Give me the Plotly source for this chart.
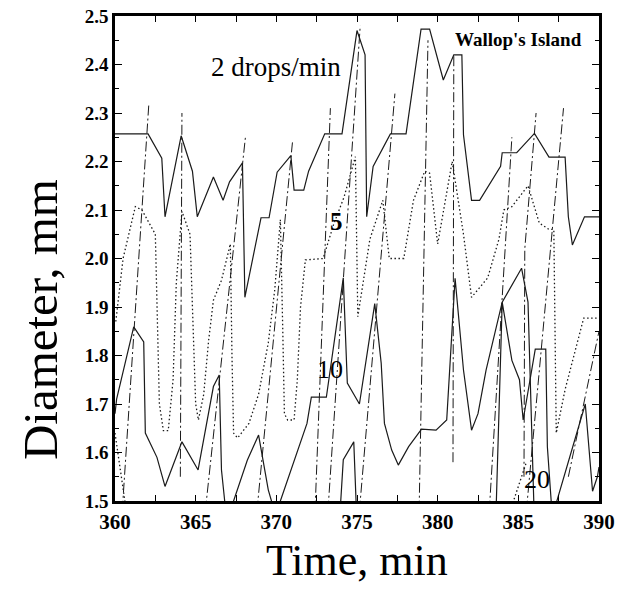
import plotly.graph_objects as go

# --- data -----------------------------------------------------------------------------
# 2 drops/min (solid, top)
t_2 = [360, 362.05, 362.9, 363.1, 364.1, 364.8, 365.1, 366.1, 366.7, 367.1, 367.9, 368.05,
       369.05, 369.55, 370.05, 370.9, 371.1, 371.7, 372.0, 373.0, 374.07, 375.0, 375.5,
       375.6, 376.0, 377.07, 378.04, 378.97, 379.5, 380.35, 381.0, 381.5, 381.6, 382.1,
       382.6, 383.9, 384.0, 384.9, 386.0, 386.9, 387.9, 388.1, 388.35, 389.1, 390]
d_2 = [2.257, 2.257, 2.207, 2.086, 2.253, 2.18, 2.086, 2.168, 2.12, 2.158, 2.197, 1.92,
       2.084, 2.084, 2.178, 2.212, 2.141, 2.141, 2.18, 2.257, 2.257, 2.47, 2.42,
       2.086, 2.19, 2.257, 2.257, 2.473, 2.473, 2.368, 2.42, 2.42, 2.255, 2.12,
       2.12, 2.19, 2.218, 2.218, 2.258, 2.209, 2.209, 2.086, 2.028, 2.086, 2.086]

# 5 drops/min (dotted)
t_5 = [360.05, 360.5, 361.26, 361.67, 362.5, 362.6, 362.75, 363.0, 363.3, 363.6, 363.8,
       364.15, 364.65, 364.8, 365.0, 365.17, 365.5, 365.8, 366.1, 366.6, 367.15, 367.25,
       367.35, 367.6, 368.3, 368.9, 369.5, 369.9, 370.25, 370.4, 370.5, 370.7, 371.1,
       371.3, 371.5, 371.8, 372.9, 373.55, 374.2, 374.9, 375.05, 375.8, 376.6, 377.0,
       377.9, 378.5, 379.2, 379.5, 380.0, 380.9, 381.6, 382.1, 383.1, 383.8, 384.1,
       384.6, 385.6, 386.3, 386.9, 387.2, 387.35, 387.9, 388.7, 389.05, 390]
d_5 = [1.87, 2.0, 2.107, 2.10, 2.05, 1.9, 1.7, 1.645, 1.645, 1.75, 1.95,
       2.097, 2.05, 1.9, 1.7, 1.667, 1.72, 1.83, 1.914, 1.955, 2.03, 1.8,
       1.64, 1.63, 1.66, 1.72, 1.826, 1.935, 2.08, 1.85, 1.68, 1.667, 1.667,
       1.75, 1.9, 1.997, 2.0, 2.07, 2.127, 2.21, 1.88, 2.04, 2.12, 2.0,
       2.0, 2.12, 2.18, 2.176, 2.03, 2.20, 2.05, 1.92, 1.96, 2.04, 2.10,
       2.107, 2.15, 2.073, 2.06, 2.06, 1.64, 1.73, 1.83, 1.877, 1.877]

# 10 drops/min (solid, middle)
t_10 = [360, 360.1, 361.16, 361.78, 361.88, 362.6, 363.1, 364.15, 365.15, 366.1, 366.46,
        366.6, 366.8, 367.05, 367.35, 368.2, 368.9, 369.5, 369.7, 370.0, 370.25, 371.9,
        372.17, 373.1, 374.15, 374.4, 375.15, 376.1, 376.5, 376.7, 377.15, 377.56, 378.2,
        379.0, 379.9, 380.56, 381.08, 381.6, 382.1, 382.5, 383.0, 384.0, 385.2, 385.6,
        386.0, 390]
d_10 = [1.68, 1.71, 1.859, 1.828, 1.64, 1.59, 1.53, 1.622, 1.564, 1.736, 1.76,
        1.564, 1.5, 1.45, 1.5, 1.584, 1.636, 1.523, 1.5, 1.45, 1.5, 1.66,
        1.714, 1.714, 1.96, 1.743, 1.70, 1.907, 1.784, 1.66, 1.605, 1.574, 1.612,
        1.648, 1.646, 1.667, 1.959, 1.77, 1.646, 1.68, 1.77, 1.91, 1.98, 1.91,
        1.45, 1.40]

# 20 drops/min (solid, bottom, mostly below the axis)
t_20 = [360, 373.6, 373.9, 374.15, 374.8, 375.0, 383.55, 384.0, 384.6, 385.07, 385.3,
        386.05, 386.7, 386.8, 387.1, 387.3, 389.15, 389.4, 389.6, 389.9, 390]
d_20 = [1.40, 1.40, 1.45, 1.585, 1.622, 1.45, 1.40, 1.91, 1.79, 1.75, 1.667,
        1.813, 1.813, 1.612, 1.47, 1.49, 1.70, 1.59, 1.52, 1.55, 1.57]

# dash-dot traces (None separates pieces)
t_dd = [360.45, 362.1, None, 364.05, 364.15, None, 365.6, 368.1, None, 368.8, 371.0, None,
        372.4, 373.35, None, 373.2, 375.2, None, 375.15, 377.35, None, 378.85, 379.4, None,
        380.95, 381.0, None, 383.2, 384.6, None, 385.35, 385.4, 386.1, None, 385.5, 387.8,
        None, 388.1, 390]
d_dd = [1.48, 2.32, None, 1.55, 2.30, None, 1.48, 2.255, None, 1.48, 2.24, None,
        1.48, 2.31, None, 1.48, 2.48, None, 1.48, 2.34, None, 1.48, 2.45, None,
        1.58, 2.42, None, 1.48, 2.25, None, 1.55, 2.02, 2.30, None, 1.48, 2.31,
        None, 1.55, 1.85]

# small dotted pieces near the bottom
t_dots = [360.0, 360.7, None, 384.5, 385.5]
d_dots = [1.64, 1.48, None, 1.48, 1.58]

# --------------------------------------------------------------------------------------

serif = "Liberation Serif"
ink = "#1a1a1a"

fig = go.Figure()

for tt, dd, dash, w in [
    (t_dd, d_dd, "10px,3px,2px,3px", 1),
    (t_dots, d_dots, "1.5px,2.5px", 1.3),
    (t_5, d_5, "1.5px,2.5px", 1.3),
    (t_2, d_2, "solid", 1.2),
    (t_10, d_10, "solid", 1.2),
    (t_20, d_20, "solid", 1.2),
]:
    fig.add_trace(go.Scatter(
        x=tt, y=dd, mode="lines", connectgaps=False,
        line=dict(color=ink, width=w, dash=dash),
        showlegend=False, hoverinfo="skip",
    ))

# curve labels
labels = [
    (370.0, 2.395, "2 drops/min", 27, "normal"),
    (385.0, 2.452, "Wallop's Island", 19, "bold"),
    (373.7, 2.077, "5", 25, "bold"),
    (373.3, 1.772, "10", 26, "normal"),
    (386.15, 1.545, "20", 26, "normal"),
]
for lx, ly, txt, size, weight in labels:
    fig.add_annotation(
        x=lx, y=ly, xref="x", yref="y", text=txt, showarrow=False,
        font=dict(family=serif, size=size, color="black", weight=weight),
    )

# axis titles as annotations (placed like the original)
fig.add_annotation(
    x=-0.155, y=0.375, xref="paper", yref="paper", text="Diameter, mm",
    textangle=-90, showarrow=False, xanchor="center", yanchor="middle",
    font=dict(family=serif, size=49, color="black"),
)
fig.add_annotation(
    x=0.5, y=-0.122, xref="paper", yref="paper", text="Time, min",
    showarrow=False, xanchor="center", yanchor="middle",
    font=dict(family=serif, size=44, color="black"),
)

fig.update_layout(
    width=622, height=590,
    margin=dict(l=115, r=23, t=16, b=89, autoexpand=False),
    paper_bgcolor="white", plot_bgcolor="white",
    font=dict(family=serif, color="black"),
)

fig.update_xaxes(
    range=[360, 390], dtick=5, tick0=360, automargin=False,
    ticks="inside", ticklen=6, tickwidth=1.2, tickcolor="black",
    minor=dict(dtick=2.5, ticks="inside", ticklen=6, tickcolor="black"),
    showline=True, linewidth=2.5, linecolor="black", mirror="ticks",
    showgrid=False, zeroline=False,
    tickfont=dict(family=serif, size=21, weight="bold"),
)
fig.update_yaxes(
    range=[1.5, 2.5], dtick=0.1, tick0=1.5, tickformat=".1f", automargin=False,
    ticks="inside", ticklen=7, tickwidth=1.2, tickcolor="black",
    minor=dict(dtick=0.05, ticks="inside", ticklen=4, tickcolor="black"),
    showline=True, linewidth=2.5, linecolor="black", mirror="ticks",
    showgrid=False, zeroline=False,
    tickfont=dict(family=serif, size=19, weight="bold"),
)

# the page's default body margin would push the 622x590 figure off the window
fig.write_html(
    "out.html",
    config={"displayModeBar": False},
    post_script="document.body.style.margin='0';",
)
